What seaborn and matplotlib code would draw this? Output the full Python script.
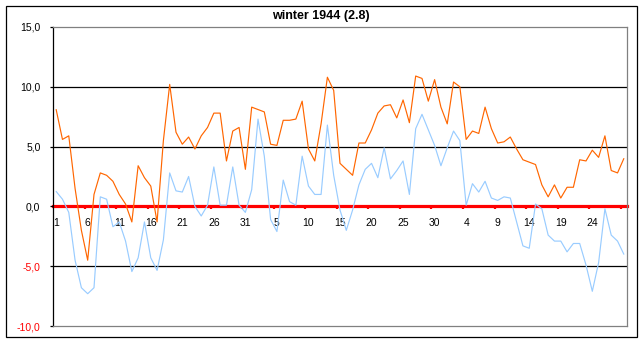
import numpy as np
import pandas as pd
import matplotlib
matplotlib.use("Agg")
import matplotlib.pyplot as plt
import seaborn as sns
from matplotlib.patches import Rectangle
from matplotlib.ticker import FixedLocator, FixedFormatter, NullFormatter

# ---------------- data ----------------
title = "winter 1944 (2.8)"
# Dec 1..31, Jan 1..31, Feb 1..29 (1944)
days = list(range(1, 32)) + list(range(1, 32)) + list(range(1, 30))
day_labels = ["1", "6", "11", "16", "21", "26", "31", "5", "10", "15",
              "20", "25", "30", "4", "9", "14", "19", "24"]

t_max = [8.1, 5.6, 5.9, 1.5, -2.0, -4.5, 1.0, 2.8, 2.6, 2.1,
         1.0, 0.2, -1.3, 3.4, 2.4, 1.7, -1.3, 5.5, 10.2, 6.2,
         5.2, 5.8, 4.8, 5.9, 6.6, 7.8, 7.8, 3.8, 6.3, 6.6,
         3.1, 8.3, 8.1, 7.9, 5.2, 5.1, 7.2, 7.2, 7.3, 8.8,
         4.8, 3.8, 6.9, 10.8, 9.7, 3.6, 3.1, 2.6, 5.3, 5.3,
         6.4, 7.8, 8.4, 8.5, 7.4, 8.9, 7.0, 10.9, 10.7, 8.8,
         10.6, 8.3, 6.9, 10.4, 10.0, 5.6, 6.3, 6.1, 8.3, 6.5,
         5.3, 5.4, 5.8, 4.8, 3.9, 3.7, 3.5, 1.8, 0.8, 1.8,
         0.7, 1.6, 1.6, 3.9, 3.8, 4.7, 4.1, 5.9, 3.0, 2.8,
         4.0]

t_min = [1.25, 0.6, -0.5, -4.5, -6.8, -7.3, -6.8, 0.8, 0.6, -1.7,
         -1.3, -2.9, -5.45, -4.3, -1.3, -4.3, -5.35, -2.8, 2.8, 1.3,
         1.2, 2.5, 0.0, -0.8, 0.1, 3.3, 0.1, 0.1, 3.3, 0.1,
         -0.5, 1.4, 7.3, 4.2, -1.1, -2.1, 2.2, 0.4, 0.1, 4.2,
         1.7, 1.0, 1.0, 6.8, 2.6, -0.3, -2.0, -0.3, 1.8, 3.1,
         3.6, 2.4, 4.9, 2.3, 3.0, 3.8, 1.0, 6.5, 7.7, 6.4,
         5.1, 3.4, 4.9, 6.3, 5.5, 0.1, 1.9, 1.2, 2.1, 0.7,
         0.5, 0.8, 0.7, -1.3, -3.3, -3.5, 0.2, -0.2, -2.4, -2.9,
         -2.9, -3.8, -3.1, -3.1, -4.9, -7.1, -4.7, -0.2, -2.4, -2.9,
         -4.0]

y_ticks = [-10, -5, 0, 5, 10, 15]

# ---------------- style ----------------
sns.set_style("white")
plt.rcParams['font.family'] = ['Liberation Sans', 'DejaVu Sans']

W, H = 643, 342
fig = plt.figure(figsize=(W / 100, H / 100), dpi=100)
fig.patch.set_facecolor("white")

# outer chart frame
fig.patches.append(Rectangle((5.5 / W, 1 - 336.5 / H), 631 / W, 331 / H,
                             transform=fig.transFigure, fill=False,
                             edgecolor="black", linewidth=0.9))

ax = fig.add_axes([53 / W, 1 - 326 / H, (627 - 53) / W, (326 - 27) / H])
ax.set_facecolor("white")

n = len(days)
df = pd.DataFrame({"idx": np.arange(n), "tmax": t_max, "tmin": t_min})

sns.lineplot(data=df, x="idx", y="tmin", color="#99CCFF", linewidth=0.85, ax=ax)
sns.lineplot(data=df, x="idx", y="tmax", color="#FF6600", linewidth=0.85, ax=ax)

ymin, ymax = y_ticks[0], y_ticks[-1]
ax.set_xlim(-0.5, n - 0.5)
ax.set_ylim(ymin, ymax)
ax.set_xlabel("")
ax.set_ylabel("")

# gridlines (black), excluding border and zero line
for v in y_ticks:
    if v not in (ymin, ymax, 0):
        ax.axhline(v, color="black", linewidth=0.9, zorder=1)

# spines
for s in ("top", "right", "bottom"):
    ax.spines[s].set_color("#808080")
    ax.spines[s].set_linewidth(0.9)
ax.spines["left"].set_color("black")
ax.spines["left"].set_linewidth(0.9)

# y ticks
ax.set_yticks(y_ticks)
ax.set_yticklabels([f"{v:.1f}".replace(".", ",") for v in y_ticks])
ax.tick_params(axis="y", direction="out", length=2.5, width=0.9,
               color="black", pad=6.5, labelsize=7.5, left=True)
for lab, v in zip(ax.get_yticklabels(), y_ticks):
    lab.set_color("red" if v < 0 else "black")

ax.set_xticks([])

# category axis at y = 0 (red)
zero_pos = (0 - ymin) / (ymax - ymin)
sec = ax.secondary_xaxis(zero_pos)
sec.spines["bottom"].set_color("red")
sec.spines["bottom"].set_linewidth(2.3)
sec.spines["top"].set_visible(False)
boundaries = np.arange(4.5, n - 0.5, 5)
sec.xaxis.set_major_locator(FixedLocator(boundaries))
sec.xaxis.set_major_formatter(NullFormatter())
label_pos = np.arange(0, n, 5)[:len(day_labels)]
sec.xaxis.set_minor_locator(FixedLocator(label_pos))
sec.xaxis.set_minor_formatter(FixedFormatter(day_labels))
sec.tick_params(which="major", direction="out", length=2.5, width=1.6, color="red")
sec.tick_params(which="minor", length=0, pad=8, labelsize=7.5, labelcolor="black")

# title
fig.text(321 / W, 1 - 16.5 / H, title, ha="center", va="center",
         fontsize=9, fontweight="bold", color="black")

fig.savefig("out.png", dpi=100, facecolor="white")
